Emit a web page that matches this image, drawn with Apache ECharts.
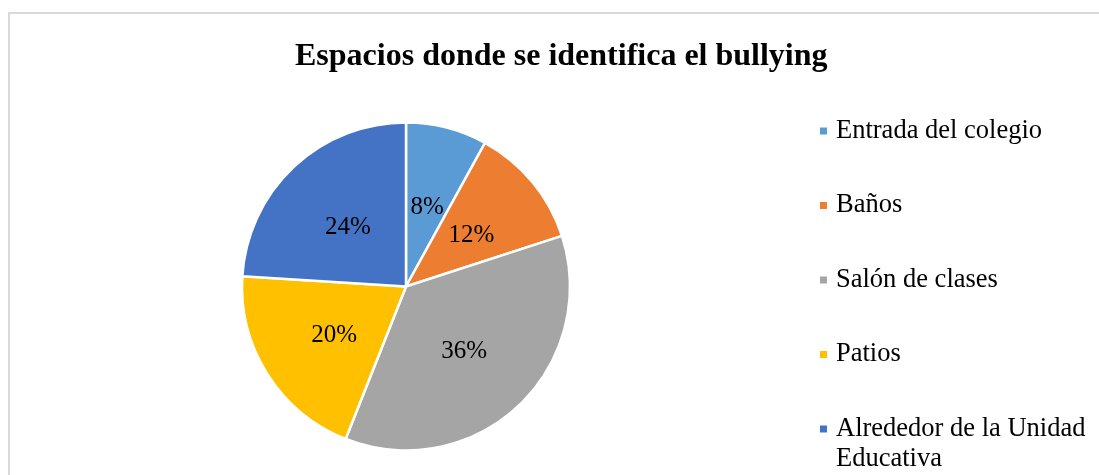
<!DOCTYPE html>
<html>
<head>
<meta charset="utf-8">
<script src="https://cdn.jsdelivr.net/npm/echarts@6/dist/echarts.min.js"></script>
<style>
  html, body { margin: 0; padding: 0; background: #fff; }
  #frame { position: absolute; left: 8px; top: 12px; width: 1100px; height: 480px; border: 2px solid #d9d9d9; box-sizing: border-box; }
  #chart { position: absolute; left: 0; top: 0; width: 1099px; height: 475px; }
</style>
</head>
<body>
<div id="frame"></div>
<div id="chart"></div>
<script>
// data
var categories = ['Entrada del colegio', 'Baños', 'Salón de clases', 'Patios', 'Alrededor de la Unidad Educativa']
var values = [8, 12, 36, 20, 24]
var colors = ['#5B9BD5', '#ED7D31', '#A5A5A5', '#FFC000', '#4472C4']

var serif = '"Liberation Serif", "Times New Roman", serif'

var pieData = []
for (var i = 0; i < categories.length; i++) {
  pieData.push({ name: categories[i], value: values[i], itemStyle: { color: colors[i] } })
}

var chart = echarts.init(document.getElementById('chart'))
chart.setOption({
  animation: false,
  title: {
    text: 'Espacios donde se identifica el bullying',
    left: 295,
    top: 41,
    padding: 0,
    textStyle: { fontFamily: serif, fontSize: 32, fontWeight: 'bold', color: '#000' }
  },
  legend: [
    {
      // first four entries
      data: categories.slice(0, 4),
      orient: 'vertical',
      left: 818,
      top: 116,
      padding: 0,
      itemWidth: 9,
      itemHeight: 9,
      itemGap: 44.5,
      icon: 'rect',
      selectedMode: false,
      textStyle: { fontFamily: serif, fontSize: 26.5, color: '#000', lineHeight: 30, padding: [0, 0, 0, 3] }
    },
    {
      // last entry wraps onto two lines, marker stays on the first line
      data: categories.slice(4),
      orient: 'vertical',
      left: 818,
      top: 384,
      padding: 0,
      itemWidth: 9,
      itemHeight: 9,
      icon: 'rect',
      selectedMode: false,
      formatter: function(name) {
        return '\n' + name
      },
      textStyle: { fontFamily: serif, fontSize: 26.5, color: '#000', lineHeight: 30, width: 262, overflow: 'break', padding: [0, 0, 0, 3] }
    }
  ],
  series: [
    {
      type: 'pie',
      center: [406, 286.5],
      radius: [0, 164],
      startAngle: 90,
      clockwise: true,
      data: pieData,
      itemStyle: { borderColor: '#fff', borderWidth: 2.5 },
      label: {
        show: true,
        position: 'inner',
        formatter: '{d}%',
        fontFamily: serif,
        fontSize: 25,
        color: '#000',
        offset: [0, 3]
      },
      labelLine: { show: false },
      emphasis: { disabled: true }
    }
  ]
})
</script>
</body>
</html>
